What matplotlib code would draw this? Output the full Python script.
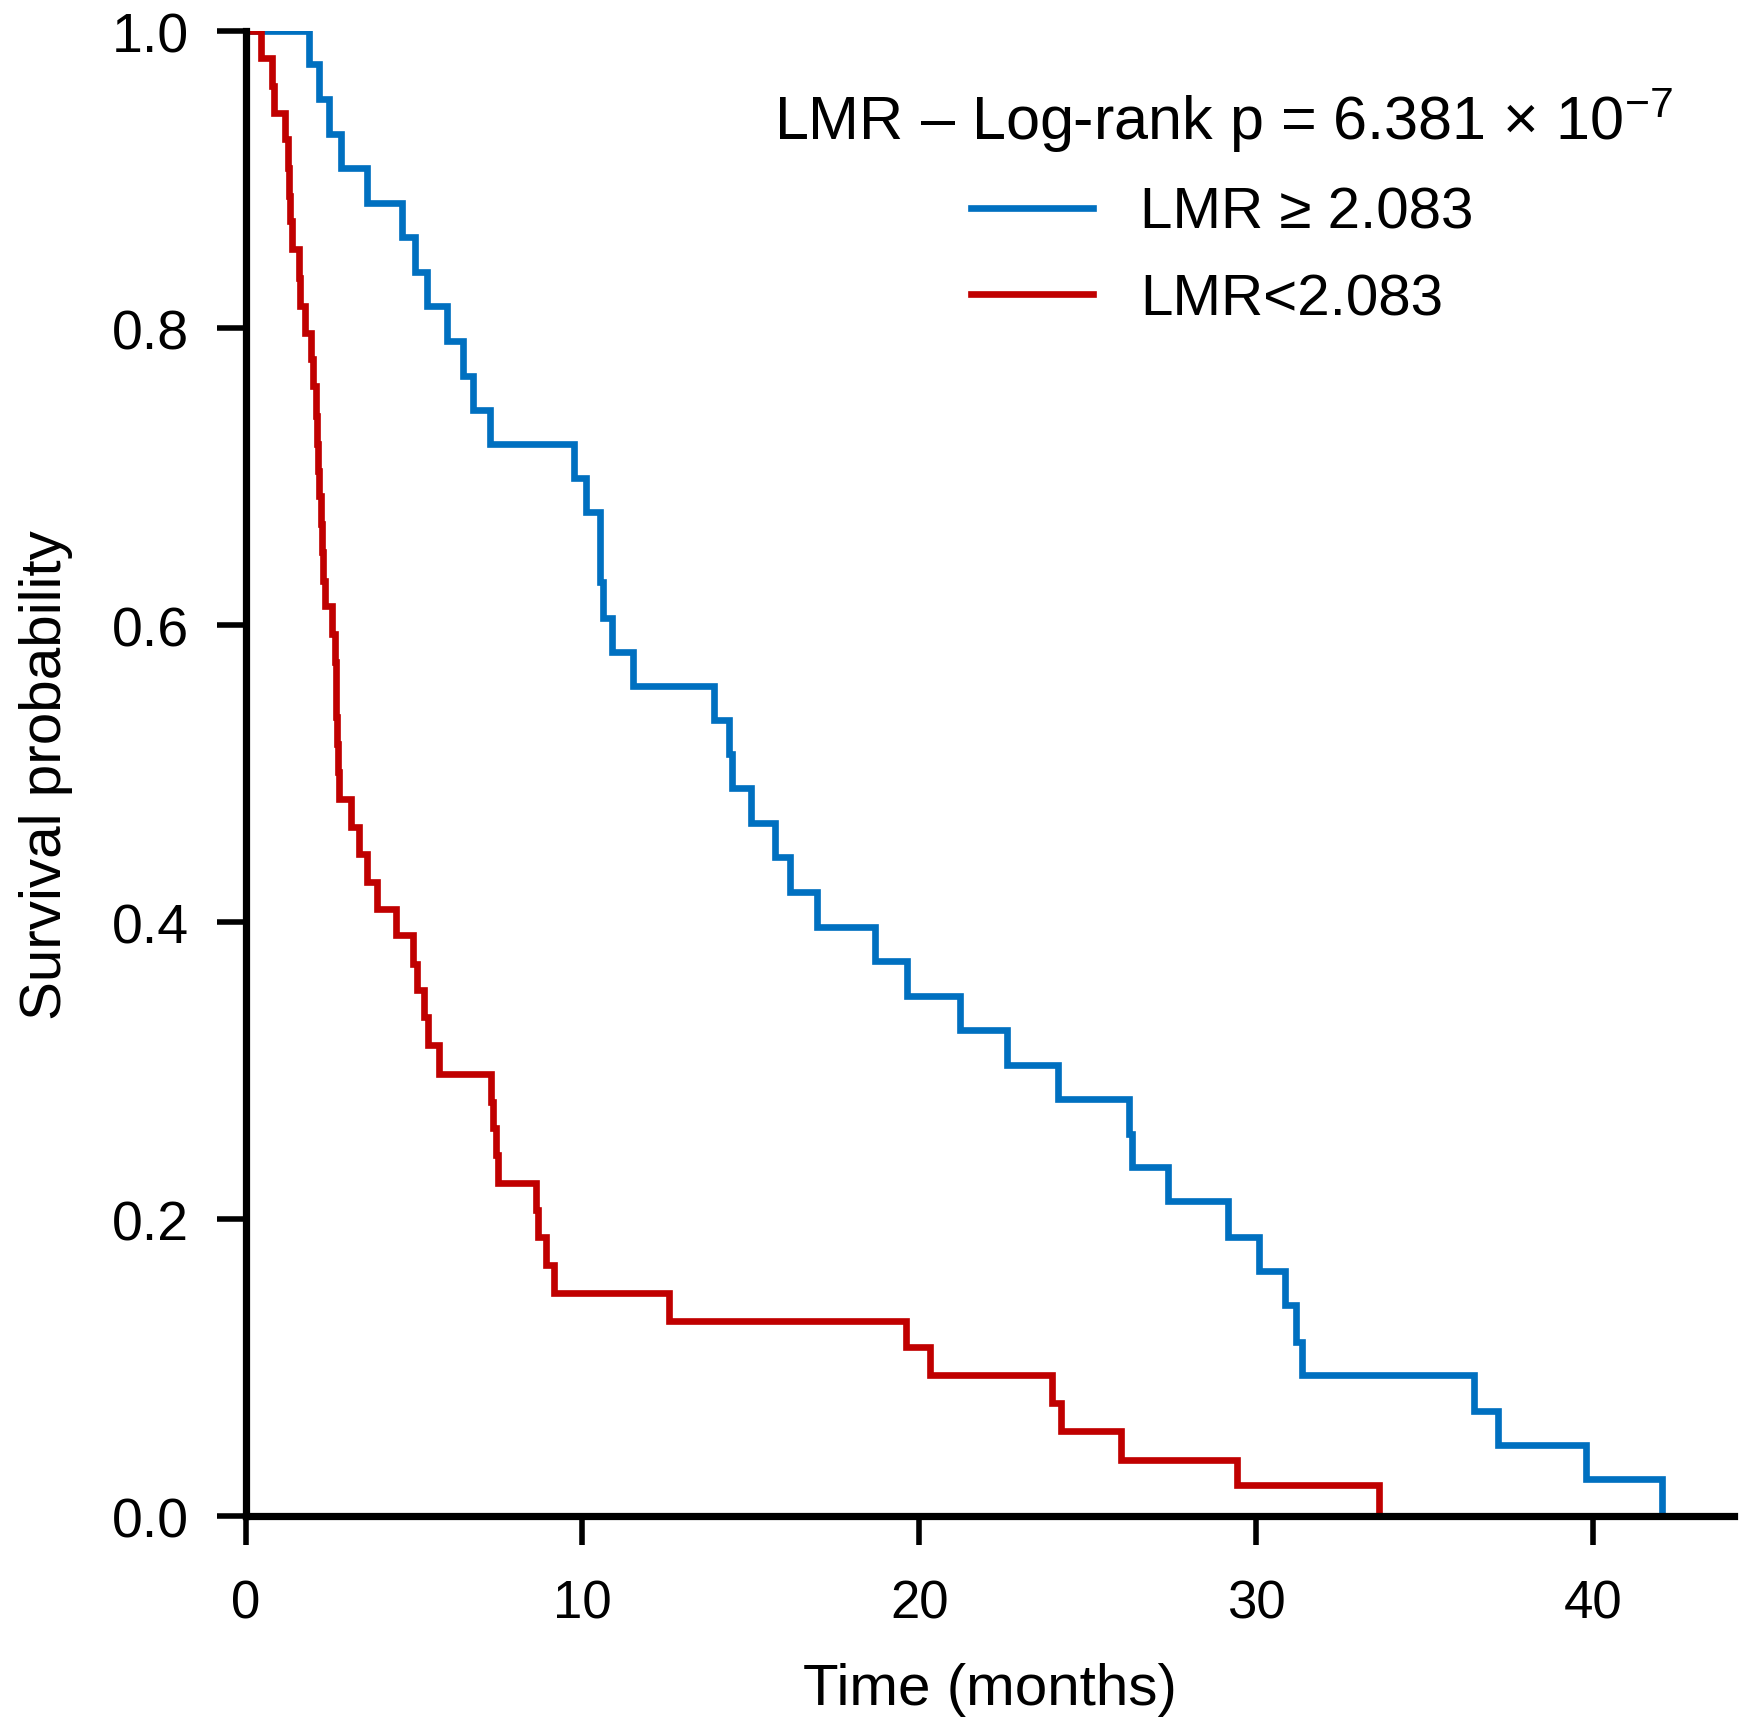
import matplotlib
matplotlib.use("Agg")
import matplotlib.pyplot as plt
from matplotlib.lines import Line2D

plt.rcParams['font.family'] = ['Liberation Sans', 'DejaVu Sans']
plt.rcParams['mathtext.fontset'] = 'custom'
plt.rcParams['mathtext.rm'] = 'Liberation Sans'
plt.rcParams['mathtext.it'] = 'Liberation Sans:italic'

# Kaplan-Meier steps (time in months, survival probability)
high_time = [0, 1.88, 2.18, 2.48, 2.82, 3.61, 4.65, 5.03, 5.37, 5.97, 6.45, 6.74,
             7.27, 9.75, 10.12, 10.52, 10.62, 10.87, 11.49, 13.91, 14.34, 14.44,
             15.00, 15.72, 16.17, 16.97, 18.68, 19.65, 21.20, 22.62, 24.11, 26.24,
             26.33, 27.38, 29.17, 30.09, 30.86, 31.18, 31.38, 36.48, 37.20, 39.79,
             42.05]
high_surv = [1.0, 0.978, 0.954, 0.931, 0.908, 0.884, 0.861, 0.838, 0.815, 0.791,
             0.768, 0.745, 0.722, 0.699, 0.676, 0.629, 0.605, 0.582, 0.559, 0.536,
             0.513, 0.490, 0.467, 0.444, 0.420, 0.397, 0.374, 0.350, 0.327, 0.304,
             0.281, 0.257, 0.235, 0.212, 0.188, 0.165, 0.142, 0.117, 0.095, 0.071,
             0.048, 0.025, 0.0]

low_time = [0, 0.45, 0.79, 0.84, 1.17, 1.27, 1.30, 1.32, 1.38, 1.58, 1.62, 1.76,
            1.93, 2.01, 2.09, 2.13, 2.16, 2.19, 2.23, 2.26, 2.29, 2.35, 2.55, 2.65,
            2.67, 2.69, 2.72, 2.74, 2.78, 3.12, 3.37, 3.59, 3.89, 4.47, 4.98, 5.09,
            5.29, 5.40, 5.73, 7.28, 7.35, 7.42, 7.50, 8.61, 8.69, 8.92, 9.15, 12.56,
            19.60, 20.32, 23.96, 24.20, 26.00, 29.43, 33.67]
low_surv = [1.0, 0.982, 0.963, 0.945, 0.927, 0.908, 0.889, 0.872, 0.853, 0.834,
            0.815, 0.797, 0.779, 0.761, 0.741, 0.722, 0.704, 0.687, 0.668, 0.649,
            0.630, 0.613, 0.594, 0.575, 0.556, 0.538, 0.520, 0.501, 0.483, 0.464,
            0.446, 0.427, 0.409, 0.391, 0.372, 0.354, 0.336, 0.317, 0.298, 0.279,
            0.261, 0.243, 0.224, 0.206, 0.188, 0.169, 0.150, 0.1315, 0.114, 0.095,
            0.076, 0.0575, 0.038, 0.021, 0.0]

labels = ['LMR \u2265 2.083', 'LMR<2.083']
colors = ['#0070C0', '#C00000']
pvalue_text = 'LMR \u2013 Log-rank p = 6.381 \u00d7 10$^{\u22127}$'

x_ticks = [0, 10, 20, 30, 40]
y_ticks = [0.0, 0.2, 0.4, 0.6, 0.8, 1.0]

fig = plt.figure(figsize=(8.725, 8.665), dpi=200)
ax = fig.add_axes([0.1408, 0.1246, 0.8529, 0.8569])

for t, s, c in [(high_time, high_surv, colors[0]), (low_time, low_surv, colors[1])]:
    ax.plot(t, s, drawstyle='steps-post', color=c, lw=2.4,
            solid_joinstyle='miter', solid_capstyle='butt')

ax.set_xlim(0, 44.2)
ax.set_ylim(0, 1.0)
ax.set_xticks(x_ticks)
ax.set_yticks(y_ticks)
ax.set_yticklabels([f'{v:.1f}' for v in y_ticks])

for side in ['top', 'right']:
    ax.spines[side].set_visible(False)
for side in ['left', 'bottom']:
    ax.spines[side].set_linewidth(2.6)
ax.tick_params(axis='both', length=10.5, width=2.0)
ax.tick_params(axis='x', pad=12, labelsize=19)
ax.tick_params(axis='y', pad=10, labelsize=20)

ax.set_xlabel('Time (months)', fontsize=21, labelpad=12)
ax.set_ylabel('Survival probability', fontsize=21, labelpad=14)

# p-value line above the legend
fig.text(1223 / 1745, 1 - 140 / 1733, pvalue_text, fontsize=22,
         ha='center', va='baseline')

handles = [Line2D([], [], color=c, lw=2.4) for c in colors]
ax.legend(handles, labels, loc='upper center',
          bbox_to_anchor=(1222 / 1745, 1 - 187 / 1733),
          bbox_transform=fig.transFigure, frameon=False, fontsize=21,
          handlelength=2.1, handletextpad=0.8, labelspacing=0.55,
          borderpad=0, borderaxespad=0)

fig.savefig('out.png', dpi=200)
